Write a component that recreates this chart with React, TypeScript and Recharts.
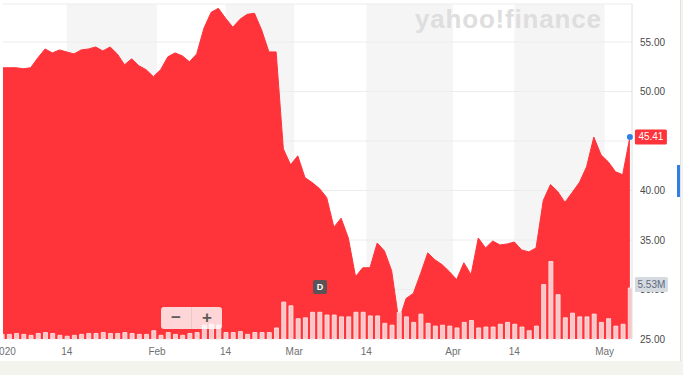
import {
    ComposedChart,
    Area,
    Bar,
    XAxis,
    YAxis,
    CartesianGrid,
    ReferenceArea,
    ReferenceDot,
} from "recharts";

// daily close, Dec 31 2019 - May 6 2020 (one entry per trading day)
const prices = [
    52.4,
    52.4, 52.4, 52.3, 52.4, 53.4, 54.3, 53.9, 54.2, 54.0, 53.8,
    54.2, 54.3, 54.5, 54.1, 54.5, 53.8, 52.7, 53.3, 52.6, 52.2,
    51.5, 52.2, 53.5, 53.9, 53.6, 53.0, 53.8, 56.4, 58.0, 58.4,
    57.4, 56.5, 57.3, 57.8, 57.9, 56.2, 54.0, 54.0, 44.2, 42.6,
    43.5, 41.3, 40.8, 40.2, 39.3, 36.3, 37.2, 35.2, 31.3, 32.2,
    32.2, 34.7, 33.9, 31.9, 26.8, 29.1, 29.6, 31.6, 33.7, 33.0,
    32.5, 31.8, 31.0, 32.7, 31.5, 35.2, 34.2, 34.9, 34.5, 34.6,
    34.8, 34.0, 33.8, 34.2, 39.0, 40.6, 39.9, 38.8, 39.8, 40.8,
    42.4, 45.4, 43.6, 42.9, 41.9, 41.6, 45.41,
];

// volume in millions
const volumes = [
    0.5,
    0.5, 0.6, 0.5, 0.4, 0.6, 0.7, 0.6, 0.4, 0.3, 0.4,
    0.5, 0.6, 0.6, 0.7, 0.6, 0.6, 0.7, 0.6, 0.5, 0.5,
    0.9, 0.4, 0.7, 0.5, 0.4, 0.6, 0.7, 1.5, 1.6, 1.5,
    0.7, 0.7, 0.8, 0.5, 0.7, 0.7, 0.7, 1.2, 4.0, 3.6,
    2.2, 2.3, 2.9, 2.9, 2.6, 2.6, 2.4, 2.4, 2.9, 2.9,
    2.5, 2.5, 1.7, 1.5, 2.9, 2.4, 1.8, 2.7, 1.7, 1.4,
    1.5, 1.4, 1.2, 1.8, 2.0, 1.2, 1.3, 1.3, 1.6, 1.8,
    1.6, 1.3, 0.9, 1.4, 5.9, 8.4, 4.8, 2.3, 2.8, 2.4,
    2.4, 2.7, 1.8, 2.2, 1.4, 1.6, 5.53,
];

// x positions are trading-day indexes, Jan 2 = 0
const tickIdx = [-0.6, 8, 20.5, 30, 39.5, 49.5, 61.5, 70, 82.5];
const tickLabels = ["2020", "14", "Feb", "14", "Mar", "14", "Apr", "14", "May"];
const priceTicks = [25, 30, 35, 40, 45, 50, 55];
const shadedFrom = [8, 30, 49.5, 70];
const shadedTo = [20.5, 39.5, 61.5, 82.5];
const lastPrice = 45.41;
const lastVolume = 5.53;

const data = prices.map((p, k) => ({ i: k - 1, price: p, volume: volumes[k] }));
const lastIdx = prices.length - 2;

const RED = "#ff333a";
const FONT = "'Liberation Sans', Arial, sans-serif";

const DateTick = ({ x, y, payload }: any) => {
    const k = tickIdx.indexOf(payload.value);
    return (
        <text x={x} y={y} dy={8} textAnchor="middle" fontSize={10} fill="#6f6f6f" fontFamily={FONT}>
            {tickLabels[k]}
        </text>
    );
};

const PriceTick = ({ x, y, payload }: any) => {
    if (payload.value === 45) return null;
    return (
        <text x={x} y={y} dy={3.5} textAnchor="start" fontSize={10} fill="#4a4a4a" fontFamily={FONT}>
            {payload.value.toFixed(2)}
        </text>
    );
};

const PriceTag = ({ cx, cy }: any) => (
    <g>
        <circle cx={cx} cy={cy} r={3} fill="#2f7fe6" />
        <rect x={cx + 5} y={cy - 7.5} width={32} height={15} rx={1.5} fill={RED} />
        <text x={cx + 21} y={cy + 3.5} textAnchor="middle" fontSize={10} fill="#fff" fontFamily={FONT}>
            {lastPrice.toFixed(2)}
        </text>
    </g>
);

const VolumeTag = ({ cx, cy }: any) => (
    <g>
        <rect x={cx + 5} y={cy - 11} width={33} height={15} rx={1.5} fill="#d5dae1" />
        <text x={cx + 21.5} y={cy} textAnchor="middle" fontSize={10} fill="#5d6b7d" fontFamily={FONT}>
            {lastVolume.toFixed(2) + "M"}
        </text>
    </g>
);

export default function App() {
    return (
        <div style={{ position: "absolute", left: 0, top: 0, width: 683, height: 375, background: "#f3f4ee" }}>
            <div
                style={{
                    position: "absolute",
                    left: 0,
                    top: 0,
                    width: 680,
                    height: 361,
                    background: "#fff",
                    borderRight: "1px solid #e2e2e2",
                }}
            >
                <ComposedChart width={683} height={361} data={data} margin={{ top: 4, right: 0, bottom: 0, left: 3 }}>
                    {shadedFrom.map((a, k) => (
                        <ReferenceArea
                            key={k}
                            x1={a}
                            x2={shadedTo[k]}
                            fill="#f5f5f5"
                            fillOpacity={1}
                            stroke="none"
                            zIndex={-110}
                        />
                    ))}
                    <CartesianGrid vertical={false} stroke="#ececec" />
                    <XAxis
                        dataKey="i"
                        type="number"
                        domain={[-0.83, 86.29]}
                        allowDataOverflow
                        ticks={tickIdx}
                        interval={0}
                        tick={<DateTick />}
                        axisLine={false}
                        tickLine={false}
                        height={22}
                    />
                    <YAxis
                        orientation="right"
                        domain={[25, 58.84]}
                        allowDataOverflow
                        ticks={priceTicks}
                        interval={0}
                        tick={<PriceTick />}
                        axisLine={{ stroke: "#e0e0e0" }}
                        tickLine={false}
                        width={51}
                    />
                    <YAxis yAxisId="vol" hide domain={[0, 36.3]} />
                    <Area
                        type="linear"
                        dataKey="price"
                        stroke={RED}
                        strokeWidth={1}
                        fill={RED}
                        fillOpacity={1}
                        isAnimationActive={false}
                        dot={false}
                        activeDot={false}
                    />
                    <Bar
                        dataKey="volume"
                        yAxisId="vol"
                        barSize={4}
                        fill="#fbc4c6"
                        stroke="#ffecec"
                        strokeWidth={0.8}
                        isAnimationActive={false}
                    />
                    <ReferenceDot x={lastIdx} y={lastVolume} yAxisId="vol" shape={<VolumeTag />} ifOverflow="visible" zIndex={2500} />
                    <ReferenceDot x={lastIdx} y={lastPrice} shape={<PriceTag />} ifOverflow="visible" zIndex={2500} />
                </ComposedChart>

                {/* watermark */}
                <div
                    style={{
                        position: "absolute",
                        left: 415,
                        top: 4,
                        fontFamily: FONT,
                        fontWeight: 700,
                        fontSize: 26,
                        letterSpacing: 0.8,
                        color: "#dedede",
                        pointerEvents: "none",
                    }}
                >
                    yahoo!finance
                </div>

                {/* dividend marker */}
                <div
                    style={{
                        position: "absolute",
                        left: 313,
                        top: 280,
                        width: 14,
                        height: 14,
                        borderRadius: 2,
                        background: "#5a5456",
                        color: "#fff",
                        fontFamily: FONT,
                        fontWeight: 700,
                        fontSize: 9,
                        lineHeight: "14px",
                        textAlign: "center",
                    }}
                >
                    D
                </div>

                {/* zoom control */}
                <div
                    style={{
                        position: "absolute",
                        left: 161,
                        top: 307,
                        width: 61,
                        height: 22,
                        borderRadius: 3,
                        background: "rgba(255,255,255,0.8)",
                        display: "flex",
                        fontFamily: FONT,
                        fontWeight: 700,
                        fontSize: 17,
                        color: "#5a5a5a",
                        lineHeight: "22px",
                        textAlign: "center",
                    }}
                >
                    <div style={{ width: 30, borderRight: "1px solid #e6c9ca" }}>−</div>
                    <div style={{ width: 30 }}>+</div>
                </div>

                {/* scroll handle */}
                <div style={{ position: "absolute", left: 677, top: 165, width: 3, height: 32, background: "#2f7fe6" }} />
            </div>
        </div>
    );
}
